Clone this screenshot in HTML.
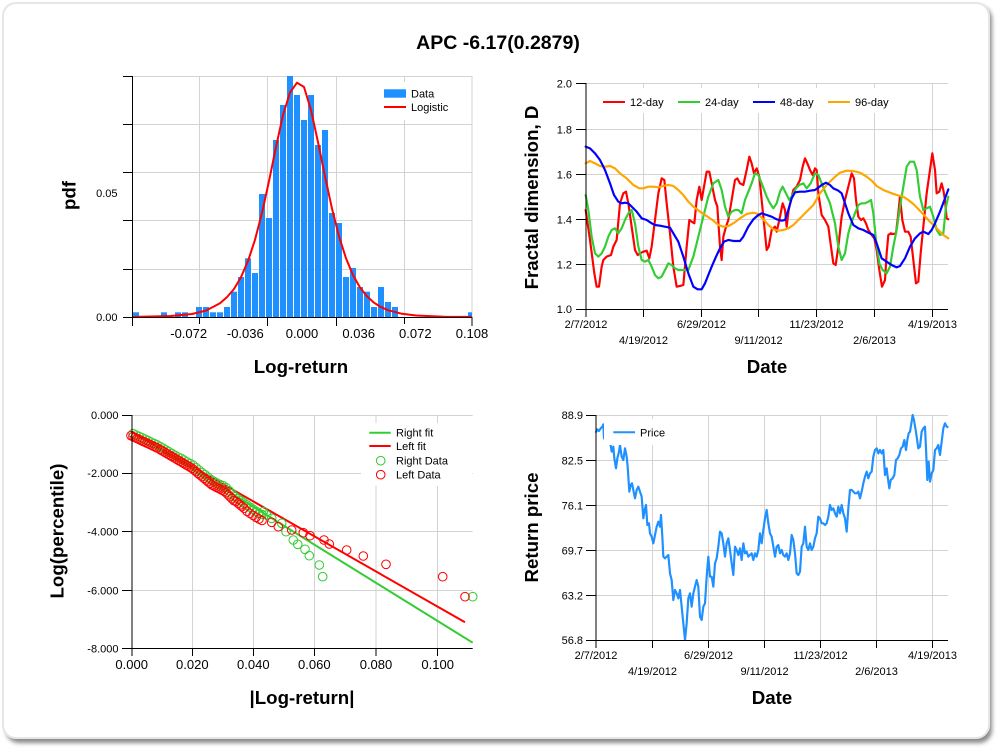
<!DOCTYPE html>
<html><head><meta charset="utf-8"><style>
html,body{margin:0;padding:0;background:#fff;}
svg{display:block;font-family:"Liberation Sans",Arial,sans-serif;}
</style></head><body>
<svg width="1000" height="750" viewBox="0 0 1000 750" xmlns="http://www.w3.org/2000/svg">
<defs><filter id="sh" x="-5%" y="-5%" width="110%" height="110%"><feGaussianBlur stdDeviation="2"/></filter></defs>
<rect x="0" y="0" width="1000" height="750" fill="#fff"/>
<rect x="6" y="6" width="986" height="737" rx="13" fill="#8a8a8a" filter="url(#sh)"/>
<rect x="3" y="3" width="986" height="735" rx="13" fill="#fff" stroke="#e6e6e6" stroke-width="2"/>

<text x="498" y="49" font-size="19.5" font-weight="bold" text-anchor="middle" fill="#000">APC -6.17(0.2879)</text>

<!-- ===== Histogram ===== -->
<g stroke="#d3d3d3" stroke-width="1" fill="none">
<line x1="132" y1="76.5" x2="472" y2="76.5"/>
<line x1="132" y1="124.5" x2="472" y2="124.5"/>
<line x1="132" y1="172.5" x2="472" y2="172.5"/>
<line x1="132" y1="220.5" x2="472" y2="220.5"/>
<line x1="132" y1="269.5" x2="472" y2="269.5"/>
<line x1="199.5" y1="76" x2="199.5" y2="317"/>
<line x1="267.5" y1="76" x2="267.5" y2="317"/>
<line x1="336.5" y1="76" x2="336.5" y2="317"/>
<line x1="404.5" y1="76" x2="404.5" y2="317"/>
<line x1="472" y1="76" x2="472" y2="317"/>
</g>
<g fill="#1e90ff">
<rect x="133" y="312.3" width="6" height="4.7"/>
<rect x="161" y="312.3" width="6" height="4.7"/>
<rect x="175" y="312.3" width="6" height="4.7"/>
<rect x="182" y="312.3" width="6" height="4.7"/>
<rect x="196" y="307" width="6" height="10"/>
<rect x="203" y="307" width="6" height="10"/>
<rect x="210" y="312.3" width="6" height="4.7"/>
<rect x="217" y="312.3" width="6" height="4.7"/>
<rect x="224" y="307" width="6" height="10"/>
<rect x="231" y="291.7" width="6" height="25.3"/>
<rect x="238" y="277" width="6" height="40"/>
<rect x="245" y="258.3" width="6" height="58.7"/>
<rect x="252" y="273" width="6" height="44"/>
<rect x="259" y="194" width="6" height="123"/>
<rect x="266" y="218" width="6" height="99"/>
<rect x="273" y="140" width="6" height="177"/>
<rect x="280" y="105" width="6" height="212"/>
<rect x="287" y="76" width="6" height="241"/>
<rect x="294" y="95" width="6" height="222"/>
<rect x="301" y="120" width="6" height="197"/>
<rect x="308" y="95" width="6" height="222"/>
<rect x="315" y="145" width="6" height="172"/>
<rect x="322" y="130" width="6" height="187"/>
<rect x="329" y="213" width="6" height="104"/>
<rect x="336" y="223" width="6" height="94"/>
<rect x="343" y="277" width="6" height="40"/>
<rect x="350" y="268" width="6" height="49"/>
<rect x="357" y="287" width="6" height="30"/>
<rect x="364" y="291.7" width="6" height="25.3"/>
<rect x="371" y="307" width="6" height="10"/>
<rect x="378" y="287" width="6" height="30"/>
<rect x="385" y="302" width="6" height="15"/>
<rect x="392" y="307" width="6" height="10"/>
<rect x="468" y="312.3" width="4" height="4.7"/>
</g>
<polyline fill="none" stroke="#ff0000" stroke-width="2" stroke-linejoin="round" points="132,317 136,316.9 171,316 192,314 206,310.6 220,303.3 227,297.1 234,289 241,277.2 248,261 255,239.8 262,212.9 269,181.1 276,147 283,115 290,92.5 297,82.7 304,87 311,110 318,142.1 325,176.3 332,208.6 339,236.3 346,258.3 353,275.1 360,287.5 367,296.4 374,302.7 381,307.1 388,310.2 402,313.8 416,315.5 444,316.7 472,316.9"/>
<g stroke="#000" stroke-width="1">
<line x1="132.5" y1="76" x2="132.5" y2="317"/>
<line x1="132" y1="317.5" x2="472" y2="317.5"/>
<line x1="123" y1="76.5" x2="132" y2="76.5"/>
<line x1="123" y1="124.5" x2="132" y2="124.5"/>
<line x1="123" y1="172.5" x2="132" y2="172.5"/>
<line x1="123" y1="220.5" x2="132" y2="220.5"/>
<line x1="123" y1="269.5" x2="132" y2="269.5"/>
<line x1="123" y1="317.5" x2="132" y2="317.5"/>
<line x1="132.5" y1="317" x2="132.5" y2="326"/>
<line x1="199.5" y1="317" x2="199.5" y2="324"/>
<line x1="267.5" y1="317" x2="267.5" y2="326"/>
<line x1="336.5" y1="317" x2="336.5" y2="326"/>
<line x1="404.5" y1="317" x2="404.5" y2="324"/>
<line x1="472" y1="317" x2="472" y2="326"/>
</g>
<rect x="378" y="82" width="93" height="38" fill="#fff"/>
<rect x="384" y="89.3" width="22" height="8.4" fill="#1e90ff"/>
<line x1="384" y1="107" x2="406" y2="107" stroke="#ff0000" stroke-width="2"/>
<g font-size="11" fill="#000">
<text x="411" y="97.5">Data</text>
<text x="411" y="111">Logistic</text>
<text x="117.5" y="197" text-anchor="end">0.05</text>
<text x="117.5" y="321" text-anchor="end">0.00</text>
</g>
<g font-size="13" fill="#000" text-anchor="middle">
<text x="188.7" y="338">-0.072</text>
<text x="245.3" y="338">-0.036</text>
<text x="302" y="338">0.000</text>
<text x="358.7" y="338">0.036</text>
<text x="415.3" y="338">0.072</text>
<text x="472" y="338">0.108</text>
</g>
<text x="301" y="373" font-size="18.7" font-weight="bold" text-anchor="middle">Log-return</text>
<text x="75.5" y="195.5" font-size="18.7" font-weight="bold" text-anchor="middle" transform="rotate(-90 75.5 195.5)">pdf</text>

<!-- ===== Fractal dimension ===== -->
<g stroke="#d3d3d3" stroke-width="1" fill="none">
<line x1="586" y1="83.5" x2="948" y2="83.5"/>
<line x1="586" y1="129.5" x2="948" y2="129.5"/>
<line x1="586" y1="174.5" x2="948" y2="174.5"/>
<line x1="586" y1="219.5" x2="948" y2="219.5"/>
<line x1="586" y1="264.5" x2="948" y2="264.5"/>
<line x1="643.5" y1="83" x2="643.5" y2="309"/>
<line x1="701.5" y1="83" x2="701.5" y2="309"/>
<line x1="758.5" y1="83" x2="758.5" y2="309"/>
<line x1="816.5" y1="83" x2="816.5" y2="309"/>
<line x1="874.5" y1="83" x2="874.5" y2="309"/>
<line x1="932.5" y1="83" x2="932.5" y2="309"/>
</g>
<g transform="translate(500,60) scale(0.33333)" fill="none" stroke-width="6.5" stroke-linejoin="round" stroke-linecap="round">
<polyline stroke="#ff0000" points="257,450 270,540 283,640 290,680 297,680 305,620 310,600 320,590 333,585 340,560 350,540 360,430 370,400 378,395 385,430 395,500 405,570 413,585 420,580 430,575 440,572 448,595 455,560 465,480 475,400 485,355 493,360 500,430 510,520 520,620 530,680 540,678 550,675 560,560 568,480 575,485 583,490 590,420 598,380 605,420 612,380 620,335 628,335 637,380 645,420 652,440 660,560 665,600 670,530 678,500 685,480 695,420 705,360 712,355 720,370 730,375 740,330 748,290 755,310 762,340 770,325 778,350 785,420 795,520 800,570 806,560 815,510 825,500 830,515 838,480 848,430 855,450 860,500 866,450 873,420 880,390 890,380 900,360 908,320 915,295 922,310 930,330 938,345 945,325 950,330 955,400 965,465 975,480 985,500 993,560 1000,610 1007,615 1015,560 1025,470 1035,420 1045,380 1055,340 1062,355 1068,420 1075,470 1083,480 1090,475 1098,490 1105,510 1115,525 1123,535 1130,570 1138,630 1146,680 1155,660 1160,580 1165,525 1172,520 1180,522 1188,520 1195,460 1200,410 1207,480 1215,515 1225,515 1232,530 1240,600 1248,670 1255,665 1262,580 1272,480 1280,400 1290,330 1297,280 1305,330 1310,400 1318,395 1325,370 1330,390 1335,420 1340,475 1345,478"/>
<polyline stroke="#32cd32" points="257,405 265,450 275,530 285,580 295,590 305,580 315,560 325,530 335,510 345,505 355,520 365,505 375,480 385,460 395,450 405,490 415,560 425,600 435,605 445,600 455,620 465,645 475,655 485,650 495,630 505,610 515,615 525,625 535,630 550,630 565,630 580,590 595,530 610,470 625,410 640,370 655,360 665,390 675,440 685,470 695,455 705,450 715,450 725,460 735,420 745,395 755,370 765,340 775,345 785,370 800,410 810,430 820,445 830,430 840,395 848,380 858,400 868,420 878,405 888,385 898,375 910,370 920,385 932,370 945,340 955,345 965,370 975,395 990,430 1005,490 1015,560 1025,600 1035,580 1045,520 1055,485 1065,460 1075,435 1085,430 1095,430 1105,425 1113,420 1120,460 1128,540 1138,610 1148,630 1160,640 1170,620 1180,560 1190,510 1200,440 1210,380 1220,320 1230,305 1242,305 1250,330 1260,410 1270,450 1280,445 1290,440 1300,470 1310,510 1320,525 1330,520 1338,440 1345,410"/>
<polyline stroke="#ffa500" points="257,310 270,303 285,310 300,318 315,320 330,318 345,325 360,340 380,355 400,375 418,385 430,385 445,380 460,380 475,382 490,378 505,375 520,378 535,390 550,405 565,425 580,440 600,455 620,468 640,482 655,495 670,500 685,498 700,490 720,475 740,462 760,458 775,462 790,478 805,495 820,508 835,512 850,510 865,505 880,495 900,475 920,455 940,435 960,400 980,375 1000,355 1020,338 1040,332 1060,333 1080,338 1100,350 1115,362 1130,378 1150,390 1170,398 1190,405 1210,410 1225,420 1240,432 1255,447 1270,463 1285,480 1300,495 1315,510 1330,525 1345,535"/>
<polyline stroke="#0000ff" points="257,260 270,265 285,280 300,300 315,330 330,370 342,405 355,425 365,430 375,428 385,430 395,440 410,455 425,475 440,480 455,490 465,495 480,497 495,500 510,503 520,520 535,545 550,590 565,640 580,680 593,688 605,688 615,670 625,645 635,620 648,590 660,565 672,545 685,540 700,543 720,543 730,530 745,500 760,478 775,465 785,460 800,465 815,470 830,478 845,482 855,480 865,450 875,415 885,397 900,395 915,395 930,392 945,390 955,383 965,375 978,368 990,375 1000,385 1015,392 1025,400 1035,430 1045,460 1060,495 1075,505 1090,510 1105,518 1120,525 1130,550 1145,595 1160,605 1175,615 1190,622 1200,618 1215,595 1230,560 1245,535 1260,520 1270,515 1285,522 1295,510 1305,490 1320,455 1335,415 1345,388"/>
</g>
<g stroke="#000" stroke-width="1">
<line x1="586" y1="83" x2="586" y2="309"/>
<line x1="586" y1="309.5" x2="948" y2="309.5"/>
<line x1="576" y1="83.5" x2="586" y2="83.5"/>
<line x1="576" y1="129.5" x2="586" y2="129.5"/>
<line x1="576" y1="174.5" x2="586" y2="174.5"/>
<line x1="576" y1="219.5" x2="586" y2="219.5"/>
<line x1="576" y1="264.5" x2="586" y2="264.5"/>
<line x1="576" y1="309.5" x2="586" y2="309.5"/>
<line x1="586" y1="309" x2="586" y2="317"/>
<line x1="643.5" y1="309" x2="643.5" y2="317"/>
<line x1="701.5" y1="309" x2="701.5" y2="317"/>
<line x1="758.5" y1="309" x2="758.5" y2="317"/>
<line x1="816.5" y1="309" x2="816.5" y2="317"/>
<line x1="874.5" y1="309" x2="874.5" y2="317"/>
<line x1="932.5" y1="309" x2="932.5" y2="317"/>
</g>
<rect x="594" y="88" width="300" height="25" fill="#fff"/>
<g stroke-width="2">
<line x1="603" y1="102" x2="625" y2="102" stroke="#ff0000"/>
<line x1="678" y1="102" x2="700" y2="102" stroke="#32cd32"/>
<line x1="753" y1="102" x2="775" y2="102" stroke="#0000ff"/>
<line x1="828" y1="102" x2="850" y2="102" stroke="#ffa500"/>
</g>
<g font-size="11" fill="#000">
<text x="630" y="106">12-day</text>
<text x="705" y="106">24-day</text>
<text x="780" y="106">48-day</text>
<text x="855" y="106">96-day</text>
</g>
<g font-size="11" fill="#000" text-anchor="end">
<text x="572" y="87.5">2.0</text>
<text x="572" y="133.5">1.8</text>
<text x="572" y="178.5">1.6</text>
<text x="572" y="223.5">1.4</text>
<text x="572" y="268.5">1.2</text>
<text x="572" y="313">1.0</text>
</g>
<g font-size="11" fill="#000" text-anchor="middle">
<text x="586" y="328">2/7/2012</text>
<text x="643.5" y="344">4/19/2012</text>
<text x="701.5" y="328">6/29/2012</text>
<text x="758.5" y="344">9/11/2012</text>
<text x="816.5" y="328">11/23/2012</text>
<text x="874.5" y="344">2/6/2013</text>
<text x="932.5" y="328">4/19/2013</text>
</g>
<text x="767" y="373" font-size="18.7" font-weight="bold" text-anchor="middle">Date</text>
<text x="538" y="197.5" font-size="18.7" font-weight="bold" text-anchor="middle" transform="rotate(-90 538 197.5)">Fractal dimension, D</text>

<!-- ===== Log percentile ===== -->
<g stroke="#d3d3d3" stroke-width="1" fill="none">
<line x1="132" y1="415.5" x2="472.7" y2="415.5"/>
<line x1="132" y1="473.5" x2="472.7" y2="473.5"/>
<line x1="132" y1="531.5" x2="472.7" y2="531.5"/>
<line x1="132" y1="590.5" x2="472.7" y2="590.5"/>
<line x1="192.5" y1="415" x2="192.5" y2="648"/>
<line x1="253.5" y1="415" x2="253.5" y2="648"/>
<line x1="314.5" y1="415" x2="314.5" y2="648"/>
<line x1="376" y1="415" x2="376" y2="648"/>
<line x1="437.5" y1="415" x2="437.5" y2="648"/>
</g>
<line x1="131.7" y1="431.5" x2="472.7" y2="642.7" stroke="#32cd32" stroke-width="2"/>
<line x1="131.7" y1="432" x2="465" y2="622.3" stroke="#ff0000" stroke-width="2"/>
<g fill="none" stroke="#32cd32" stroke-width="1">
<circle cx="133" cy="433.6" r="4.3"/><circle cx="136" cy="435" r="4.3"/><circle cx="139" cy="436.4" r="4.3"/><circle cx="142" cy="437.8" r="4.3"/><circle cx="145" cy="439.2" r="4.3"/><circle cx="148" cy="440.6" r="4.3"/><circle cx="151" cy="442" r="4.3"/><circle cx="154" cy="443.4" r="4.3"/><circle cx="157" cy="444.8" r="4.3"/><circle cx="160" cy="446.5" r="4.3"/><circle cx="163" cy="448.2" r="4.3"/><circle cx="166" cy="450" r="4.3"/><circle cx="169" cy="451.8" r="4.3"/><circle cx="172" cy="453.5" r="4.3"/><circle cx="175" cy="455.3" r="4.3"/><circle cx="178" cy="457.1" r="4.3"/><circle cx="181" cy="458.3" r="4.3"/><circle cx="184" cy="460.1" r="4.3"/><circle cx="187" cy="461.9" r="4.3"/><circle cx="190" cy="463.6" r="4.3"/><circle cx="193" cy="465.1" r="4.3"/><circle cx="196" cy="467.6" r="4.3"/><circle cx="199" cy="470.1" r="4.3"/><circle cx="202" cy="472.6" r="4.3"/><circle cx="205" cy="474.7" r="4.3"/><circle cx="208" cy="477.2" r="4.3"/><circle cx="211" cy="479.7" r="4.3"/><circle cx="214" cy="481.5" r="4.3"/><circle cx="217" cy="483.1" r="4.3"/><circle cx="220" cy="484.6" r="4.3"/><circle cx="223" cy="485.7" r="4.3"/><circle cx="226" cy="487.7" r="4.3"/><circle cx="229" cy="490.7" r="4.3"/><circle cx="232" cy="493.7" r="4.3"/><circle cx="235" cy="496.7" r="4.3"/><circle cx="238" cy="498.8" r="4.3"/><circle cx="241" cy="500.9" r="4.3"/><circle cx="244" cy="503" r="4.3"/><circle cx="247" cy="505.1" r="4.3"/><circle cx="250" cy="507.2" r="4.3"/><circle cx="253" cy="509.2" r="4.3"/><circle cx="256" cy="511.3" r="4.3"/><circle cx="259" cy="513.4" r="4.3"/><circle cx="262" cy="514.5" r="4.3"/>
<circle cx="263.3" cy="511.7" r="4.3"/><circle cx="266.7" cy="515" r="4.3"/><circle cx="271.7" cy="518.3" r="4.3"/><circle cx="281.7" cy="523.3" r="4.3"/><circle cx="286" cy="531.7" r="4.3"/><circle cx="293.3" cy="540" r="4.3"/><circle cx="297.7" cy="544.3" r="4.3"/><circle cx="305" cy="549.3" r="4.3"/><circle cx="309.3" cy="555.7" r="4.3"/><circle cx="319.3" cy="565" r="4.3"/><circle cx="322.7" cy="576.7" r="4.3"/><circle cx="472.7" cy="596.7" r="4.3"/>
</g>
<g fill="none" stroke="#ff0000" stroke-width="1">
<circle cx="131" cy="435.7" r="4.3"/><circle cx="133" cy="436.6" r="4.3"/><circle cx="135" cy="437.6" r="4.3"/><circle cx="137" cy="438.5" r="4.3"/><circle cx="139" cy="439.4" r="4.3"/><circle cx="141" cy="440.4" r="4.3"/><circle cx="143" cy="441.3" r="4.3"/><circle cx="145" cy="442.2" r="4.3"/><circle cx="147" cy="443.2" r="4.3"/><circle cx="149" cy="444.1" r="4.3"/><circle cx="151" cy="445" r="4.3"/><circle cx="153" cy="446" r="4.3"/><circle cx="155" cy="446.9" r="4.3"/><circle cx="157" cy="447.8" r="4.3"/>
<circle cx="160" cy="449.5" r="4.3"/><circle cx="162" cy="450.7" r="4.3"/><circle cx="164" cy="451.8" r="4.3"/><circle cx="166" cy="453" r="4.3"/><circle cx="168" cy="454.2" r="4.3"/><circle cx="170" cy="455.4" r="4.3"/><circle cx="172" cy="456.5" r="4.3"/><circle cx="174" cy="457.7" r="4.3"/><circle cx="176" cy="458.9" r="4.3"/><circle cx="178" cy="460.1" r="4.3"/><circle cx="180" cy="461.2" r="4.3"/><circle cx="182" cy="462.4" r="4.3"/><circle cx="184" cy="463.6" r="4.3"/><circle cx="186" cy="464.8" r="4.3"/><circle cx="188" cy="465.9" r="4.3"/><circle cx="190" cy="467.1" r="4.3"/><circle cx="192" cy="468.3" r="4.3"/>
<circle cx="194" cy="470" r="4.3"/><circle cx="196" cy="471.6" r="4.3"/><circle cx="198" cy="473.3" r="4.3"/><circle cx="200" cy="475" r="4.3"/><circle cx="202" cy="476.6" r="4.3"/><circle cx="204" cy="478.3" r="4.3"/><circle cx="206" cy="480" r="4.3"/><circle cx="208" cy="481.7" r="4.3"/><circle cx="210" cy="483.3" r="4.3"/><circle cx="212" cy="485" r="4.3"/>
<circle cx="214" cy="486" r="4.3"/><circle cx="216" cy="487.1" r="4.3"/><circle cx="218" cy="488.1" r="4.3"/><circle cx="220" cy="489.1" r="4.3"/><circle cx="222" cy="490.2" r="4.3"/><circle cx="224" cy="491.2" r="4.3"/>
<circle cx="226" cy="492.7" r="4.3"/><circle cx="228" cy="494.7" r="4.3"/><circle cx="230" cy="496.7" r="4.3"/><circle cx="232" cy="498.7" r="4.3"/><circle cx="234" cy="500.7" r="4.3"/>
<circle cx="236" cy="501.5" r="4.3"/><circle cx="238" cy="503.2" r="4.3"/><circle cx="240" cy="504.8" r="4.3"/><circle cx="242" cy="506.5" r="4.3"/><circle cx="244" cy="508.2" r="4.3"/><circle cx="247" cy="511.3" r="4.3"/><circle cx="250" cy="513.4" r="4.3"/><circle cx="253" cy="515.4" r="4.3"/><circle cx="256" cy="517.3" r="4.3"/><circle cx="259" cy="519" r="4.3"/><circle cx="262" cy="520.5" r="4.3"/>
<circle cx="271.7" cy="522.3" r="4.3"/><circle cx="278.3" cy="526.7" r="4.3"/><circle cx="291.7" cy="530" r="4.3"/><circle cx="303.3" cy="532.7" r="4.3"/><circle cx="310" cy="535.7" r="4.3"/><circle cx="324" cy="540" r="4.3"/><circle cx="329.3" cy="544" r="4.3"/><circle cx="346.7" cy="550" r="4.3"/><circle cx="363.3" cy="556" r="4.3"/><circle cx="386" cy="564.3" r="4.3"/><circle cx="442.7" cy="576.7" r="4.3"/><circle cx="465" cy="596.7" r="4.3"/>
</g>
<g stroke="#000" stroke-width="1">
<line x1="132" y1="415" x2="132" y2="648.3"/>
<line x1="131.7" y1="648.5" x2="472.7" y2="648.5"/>
<line x1="122" y1="415.5" x2="132" y2="415.5"/>
<line x1="122" y1="473.5" x2="132" y2="473.5"/>
<line x1="122" y1="531.5" x2="132" y2="531.5"/>
<line x1="122" y1="590.5" x2="132" y2="590.5"/>
<line x1="122" y1="648.5" x2="132" y2="648.5"/>
<line x1="132" y1="648" x2="132" y2="656"/>
<line x1="192.5" y1="648" x2="192.5" y2="656"/>
<line x1="253.5" y1="648" x2="253.5" y2="656"/>
<line x1="314.5" y1="648" x2="314.5" y2="656"/>
<line x1="376" y1="648" x2="376" y2="656"/>
<line x1="437.5" y1="648" x2="437.5" y2="656"/>
</g>
<rect x="361" y="423" width="111" height="63" fill="#fff"/>
<line x1="369.3" y1="432.7" x2="390.7" y2="432.7" stroke="#32cd32" stroke-width="2"/>
<line x1="369.3" y1="446" x2="390.7" y2="446" stroke="#ff0000" stroke-width="2"/>
<circle cx="380.7" cy="460.7" r="4.3" fill="none" stroke="#32cd32"/>
<circle cx="380.7" cy="474.7" r="4.3" fill="none" stroke="#ff0000"/>
<g font-size="11" fill="#000">
<text x="396" y="436.7">Right fit</text>
<text x="396" y="450">Left fit</text>
<text x="396" y="464.7">Right Data</text>
<text x="396" y="478.7">Left Data</text>
</g>
<g font-size="11" fill="#000" text-anchor="end">
<text x="118.5" y="419">0.000</text>
<text x="118.5" y="477">-2.000</text>
<text x="118.5" y="535.3">-4.000</text>
<text x="118.5" y="594.3">-6.000</text>
<text x="118.5" y="652.3">-8.000</text>
</g>
<g font-size="13" fill="#000" text-anchor="middle">
<text x="131.7" y="669">0.000</text>
<text x="192.3" y="669">0.020</text>
<text x="253.3" y="669">0.040</text>
<text x="314.3" y="669">0.060</text>
<text x="376" y="669">0.080</text>
<text x="437.7" y="669">0.100</text>
</g>
<text x="302" y="704" font-size="18.7" font-weight="bold" text-anchor="middle">|Log-return|</text>
<text x="63.5" y="531" font-size="18.7" font-weight="bold" text-anchor="middle" transform="rotate(-90 63.5 531)">Log(percentile)</text>

<!-- ===== Price ===== -->
<g stroke="#d3d3d3" stroke-width="1" fill="none">
<line x1="596" y1="415.5" x2="948" y2="415.5"/>
<line x1="596" y1="460.5" x2="948" y2="460.5"/>
<line x1="596" y1="505.5" x2="948" y2="505.5"/>
<line x1="596" y1="550.5" x2="948" y2="550.5"/>
<line x1="596" y1="595.5" x2="948" y2="595.5"/>
<line x1="652.5" y1="415" x2="652.5" y2="640"/>
<line x1="708.5" y1="415" x2="708.5" y2="640"/>
<line x1="764.5" y1="415" x2="764.5" y2="640"/>
<line x1="820.5" y1="415" x2="820.5" y2="640"/>
<line x1="876.5" y1="415" x2="876.5" y2="640"/>
<line x1="932.5" y1="415" x2="932.5" y2="640"/>
</g>
<g transform="translate(500,390) scale(0.33333)" fill="none" stroke="#1e90ff" stroke-width="6.5" stroke-linejoin="round">
<polyline points="287,128 292,118 297,123 302,115 307,110 310,103 312,145 332,165 335,185 340,170 343,205 348,235 352,205 357,185 360,165 365,200 370,210 375,175 380,200 383,230 388,305 392,285 396,280 400,300 405,325 410,300 415,290 420,305 425,320 430,385 434,360 438,345 442,405 447,400 450,430 455,440 460,460 465,435 470,410 475,395 480,410 483,375 487,440 490,500 495,505 500,500 505,495 510,550 515,570 520,630 525,600 530,610 535,625 540,600 545,650 550,700 555,750 560,700 565,625 570,610 575,650 580,610 585,590 590,570 595,590 600,680 605,690 610,650 615,640 620,560 625,500 630,560 635,560 640,590 645,520 650,505 655,470 660,425 665,430 670,460 675,500 680,460 685,445 690,480 695,520 700,555 705,470 710,480 715,495 720,475 725,510 730,460 735,490 740,485 745,500 750,495 755,490 760,510 765,490 770,500 775,480 780,430 785,460 790,420 795,385 800,360 805,400 810,430 815,440 820,470 825,500 830,470 835,465 840,490 845,480 850,495 855,500 860,490 865,510 870,490 875,435 880,450 885,490 890,550 895,555 900,545 905,470 910,460 915,410 920,470 925,480 930,460 935,480 940,470 945,445 950,430 955,380 960,385 965,400 970,400 975,405 980,400 985,380 990,345 995,360 1000,355 1005,370 1010,380 1015,350 1020,370 1025,345 1030,370 1035,385 1040,425 1045,355 1050,300 1055,300 1060,305 1065,310 1070,310 1075,305 1080,325 1085,305 1090,280 1095,260 1100,245 1105,265 1110,250 1115,245 1120,200 1125,180 1130,175 1135,190 1140,180 1145,190 1150,180 1155,255 1160,235 1163,260 1168,295 1172,270 1178,265 1183,255 1188,210 1193,205 1198,195 1203,175 1208,170 1213,150 1218,180 1222,150 1226,130 1230,125 1235,95 1238,75 1242,90 1247,120 1250,140 1255,175 1260,170 1265,125 1270,115 1275,110 1278,175 1282,270 1286,215 1290,275 1295,250 1300,240 1305,180 1310,175 1315,165 1320,195 1325,155 1330,115 1335,100 1340,110 1345,112"/>
</g>
<g stroke="#000" stroke-width="1">
<line x1="596" y1="415" x2="596" y2="640"/>
<line x1="596" y1="640.5" x2="948" y2="640.5"/>
<line x1="586" y1="415.5" x2="596" y2="415.5"/>
<line x1="586" y1="460.5" x2="596" y2="460.5"/>
<line x1="586" y1="505.5" x2="596" y2="505.5"/>
<line x1="586" y1="550.5" x2="596" y2="550.5"/>
<line x1="586" y1="595.5" x2="596" y2="595.5"/>
<line x1="586" y1="640.5" x2="596" y2="640.5"/>
<line x1="596" y1="640" x2="596" y2="648"/>
<line x1="652.5" y1="640" x2="652.5" y2="648"/>
<line x1="708.5" y1="640" x2="708.5" y2="648"/>
<line x1="764.5" y1="640" x2="764.5" y2="648"/>
<line x1="820.5" y1="640" x2="820.5" y2="648"/>
<line x1="876.5" y1="640" x2="876.5" y2="648"/>
<line x1="932.5" y1="640" x2="932.5" y2="648"/>
</g>
<rect x="604" y="419" width="74" height="26" fill="#fff"/>
<line x1="613.3" y1="432.3" x2="635" y2="432.3" stroke="#1e90ff" stroke-width="2"/>
<text x="640" y="436.3" font-size="11" fill="#000">Price</text>
<g font-size="11" fill="#000" text-anchor="end">
<text x="583" y="419">88.9</text>
<text x="583" y="464.3">82.5</text>
<text x="583" y="509.3">76.1</text>
<text x="583" y="554.3">69.7</text>
<text x="583" y="599.3">63.2</text>
<text x="583" y="644">56.8</text>
</g>
<g font-size="11" fill="#000" text-anchor="middle">
<text x="596" y="659">2/7/2012</text>
<text x="652.5" y="675">4/19/2012</text>
<text x="708.5" y="659">6/29/2012</text>
<text x="764.5" y="675">9/11/2012</text>
<text x="820.5" y="659">11/23/2012</text>
<text x="876.5" y="675">2/6/2013</text>
<text x="932.5" y="659">4/19/2013</text>
</g>
<text x="772" y="704" font-size="18.7" font-weight="bold" text-anchor="middle">Date</text>
<text x="538" y="527.5" font-size="18.7" font-weight="bold" text-anchor="middle" transform="rotate(-90 538 527.5)">Return price</text>
</svg>
</body></html>
